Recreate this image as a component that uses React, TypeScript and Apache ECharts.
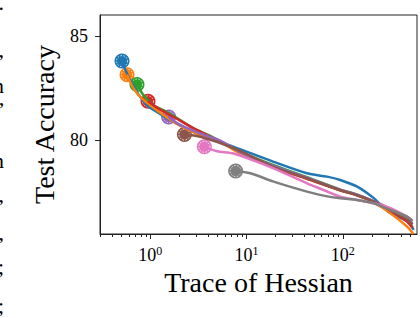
import React, { useEffect, useRef } from "react";
import * as echarts from "echarts";

const seriesColors = ["#1f77b4", "#ff7f0e", "#2ca02c", "#d62728", "#9467bd", "#8c564b", "#e377c2", "#7f7f7f"];

const blue: number[][] = [[0.508, 83.79], [0.595, 83.02], [0.727, 82.3], [0.924, 81.67], [1.174, 81.35], [1.49, 81.04], [2.22, 80.64], [3.31, 80.24], [7.34, 79.68], [19.1, 78.96], [42.5, 78.41], [68.7, 78.25], [94, 78.09], [141, 77.77], [210, 77.22], [246, 76.9], [313, 76.5], [466, 76.1], [546, 75.7]];
const orange: number[][] = [[0.573, 83.14], [0.67, 82.47], [0.82, 81.99], [1.2, 81.4], [1.85, 80.8], [2.82, 80.37], [5.62, 79.84], [8.62, 79.36], [19.1, 78.7], [42.5, 78.15], [94, 77.6], [141, 77.35], [210, 77.0], [313, 76.5], [466, 75.85], [540, 75.5]];
const green: number[][] = [[0.727, 82.67], [0.85, 82.15], [1.08, 81.67], [1.49, 81.35], [2.05, 80.96], [2.82, 80.56], [4.2, 80.2], [8.62, 79.45], [19.1, 78.8], [42.5, 78.22], [94, 77.63], [141, 77.38], [210, 77.05], [313, 76.65], [466, 76.12], [530, 75.82]];
const red: number[][] = [[0.946, 81.86], [1.22, 81.51], [1.75, 81.11], [2.82, 80.56], [4.94, 80.0], [8.6, 79.45], [19.1, 78.7], [42.5, 78.15], [94, 77.6], [141, 77.35], [210, 77.05], [313, 76.62], [466, 76.1], [530, 75.8]];
const purple: number[][] = [[1.55, 81.11], [2.05, 80.72], [3.31, 80.32], [5.62, 79.92], [8.62, 79.42], [19.1, 78.76], [42.5, 78.2], [94, 77.62], [141, 77.38], [210, 77.07], [313, 76.7], [466, 76.25], [530, 75.98]];
const brown: number[][] = [[2.26, 80.27], [3.31, 80.16], [7.34, 79.62], [19.1, 78.72], [42.5, 78.17], [94, 77.6], [141, 77.36], [210, 77.05], [313, 76.66], [466, 76.2], [530, 75.95]];
const pink: number[][] = [[3.64, 79.68], [4.94, 79.47], [7.34, 79.36], [19.1, 78.65], [42.5, 77.93], [63, 77.61], [94, 77.29], [141, 77.13], [210, 76.97], [313, 76.74], [466, 76.33], [530, 76.15]];
const gray: number[][] = [[7.7, 78.52], [10.95, 78.41], [19.1, 78.01], [42.5, 77.53], [63, 77.34], [94, 77.21], [141, 77.13], [210, 76.97], [313, 76.65], [466, 76.33], [530, 76.12]];

const allSeries = [blue, orange, green, red, purple, brown, pink, gray];

const xMajorTicks = [1, 10, 100];
const xMinorTicks = [0.3, 0.4, 0.5, 0.6, 0.7, 0.8, 0.9, 2, 3, 4, 5, 6, 7, 8, 9, 20, 30, 40, 50, 60, 70, 80, 90, 200, 300, 400, 500];
const yTicks = [80, 85];

const sideFragments = [
  { t: ".", y: -9 },
  { t: ",", y: 38 },
  { t: "n", y: 74 },
  { t: "\u201d", y: 98 },
  { t: "n", y: 149 },
  { t: ",", y: 183 },
  { t: ",", y: 221 },
  { t: ";", y: 255 },
  { t: ";", y: 294 },
];

const FONT = "'Liberation Serif', 'DejaVu Serif', serif";

export default function App() {
  const ref = useRef<HTMLDivElement>(null);
  useEffect(() => {
    document.body.style.margin = "0";
    const chart = echarts.init(ref.current!, null, { renderer: "svg" });
    const lineSeries = allSeries.map((d, i) => ({
      type: "line",
      data: d,
      xAxisIndex: 0,
      symbol: "none",
      smooth: 0.3,
      z: 4,
      lineStyle: { color: seriesColors[i], width: 2.5 },
    }));
    const starts = allSeries.map((d, i) => ({ value: d[0], itemStyle: { color: seriesColors[i], opacity: 1 } }));
    const option: any = {
      animation: false,
      grid: { left: 100, right: 3, top: 15, bottom: 84, show: true, borderColor: "#222", borderWidth: 1, backgroundColor: "transparent" },
      xAxis: [
        {
          type: "log",
          logBase: 10,
          min: 0.3,
          max: 590,
          position: "bottom",
          axisLine: { show: true, lineStyle: { color: "#222", width: 1 } },
          axisTick: { show: true, inside: false, length: 5, customValues: xMajorTicks, lineStyle: { color: "#222", width: 1 } },
          axisLabel: {
            customValues: xMajorTicks,
            margin: 11,
            formatter: (v: number) => `{b|10}{s|${Math.round(Math.log10(v))}}`,
            rich: {
              b: { fontSize: 18, fontFamily: FONT, color: "#000", lineHeight: 20 },
              s: { fontSize: 12, fontFamily: FONT, color: "#000", verticalAlign: "top", lineHeight: 12 },
            },
          },
          splitLine: { show: false },
          name: "Trace of Hessian",
          nameLocation: "middle",
          nameGap: 33,
          nameTextStyle: { fontSize: 28, fontFamily: FONT, color: "#000" },
        },
        {
          type: "log",
          logBase: 10,
          min: 0.3,
          max: 590,
          position: "bottom",
          axisLine: { show: false },
          axisTick: { show: true, inside: false, length: 3, customValues: xMinorTicks, lineStyle: { color: "#222", width: 1 } },
          axisLabel: { show: false },
          splitLine: { show: false },
        },
      ],
      yAxis: {
        type: "value",
        min: 75.5,
        max: 86,
        axisLine: { show: true, lineStyle: { color: "#222", width: 1 } },
        axisTick: { show: true, inside: false, length: 5, customValues: yTicks, lineStyle: { color: "#222", width: 1 } },
        axisLabel: { customValues: yTicks, margin: 12, fontSize: 18, fontFamily: FONT, color: "#000" },
        splitLine: { show: false },
        name: "Test Accuracy",
        nameLocation: "middle",
        nameGap: 42,
        nameTextStyle: { fontSize: 28, fontFamily: FONT, color: "#000" },
      },
      graphic: sideFragments.map((f) => ({
        type: "text",
        x: 4,
        y: f.y,
        style: { text: f.t, font: `22px ${FONT}`, fill: "#000", textAlign: "right", textVerticalAlign: "top" },
      })),
      series: [
        {
          type: "scatter",
          data: starts,
          symbol: "circle",
          symbolSize: 15,
          z: 2,
          itemStyle: { opacity: 1 },
        },
        {
          type: "scatter",
          data: starts.map((s) => ({ value: s.value })),
          symbol: "circle",
          symbolSize: 11,
          z: 3,
          itemStyle: { color: "transparent", opacity: 1, borderColor: "#fff", borderWidth: 0.8, borderType: [1.5, 1.5] },
        },
        ...lineSeries,
      ],
    };
    chart.setOption(option);
    return () => chart.dispose();
  }, []);
  return <div ref={ref} style={{ width: 420, height: 318 }} />;
}
